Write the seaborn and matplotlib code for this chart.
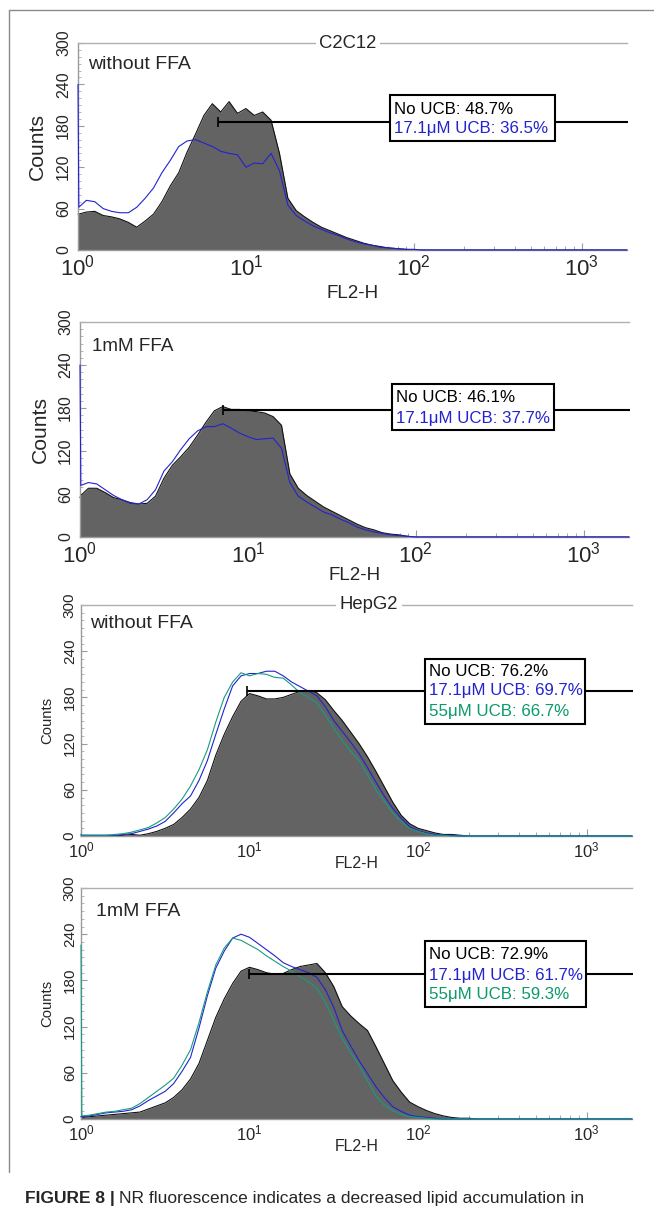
import numpy as np
import matplotlib
matplotlib.use('Agg')
import matplotlib.pyplot as plt
import seaborn as sns
from matplotlib.ticker import FixedLocator, LogLocator, NullFormatter, MultipleLocator
from matplotlib.patches import Rectangle
from matplotlib.lines import Line2D

# FL2-H channel positions (in decades) at which the histograms were read
log_x = [0.0, 0.005, 0.05, 0.10, 0.15, 0.20, 0.25, 0.30, 0.35, 0.40,
         0.45, 0.50, 0.55, 0.60, 0.65, 0.70, 0.75, 0.80, 0.85, 0.90,
         0.95, 1.00, 1.05, 1.10, 1.15, 1.20, 1.25, 1.30, 1.35, 1.40,
         1.45, 1.50, 1.55, 1.60, 1.65, 1.70, 1.75, 1.80, 1.85, 1.90,
         1.95, 2.00, 2.05, 2.10, 2.15, 2.20, 2.25, 2.30, 2.35, 2.40,
         2.45, 2.50, 3.27]

# C2C12 without FFA
c2c12_ctrl_none = [52, 52, 55, 56, 50, 48, 45, 40, 33, 42,
                   52, 70, 93, 112, 142, 168, 195, 212, 200, 215,
                   198, 205, 195, 200, 188, 140, 75, 57, 48, 40,
                   33, 28, 23, 18, 14, 10, 7, 5, 3, 2,
                   1, 0, 0, 0, 0, 0, 0, 0, 0, 0,
                   0, 0, 0]
c2c12_ctrl_ucb17 = [240, 62, 72, 70, 60, 56, 54, 54, 62, 75,
                    90, 112, 130, 150, 158, 160, 155, 150, 143, 140,
                    138, 120, 126, 125, 140, 115, 65, 50, 42, 35,
                    30, 25, 21, 16, 12, 9, 7, 4, 3, 2,
                    1, 1, 0, 0, 0, 0, 0, 0, 0, 0,
                    0, 0, 0]

# C2C12 1mM FFA
c2c12_ffa_none = [55, 58, 68, 68, 62, 55, 52, 48, 46, 47,
                  57, 82, 100, 112, 125, 142, 160, 176, 182, 178,
                  178, 176, 175, 173, 168, 156, 88, 68, 58, 50,
                  42, 36, 30, 24, 18, 13, 10, 6, 4, 3,
                  1, 0, 0, 0, 0, 0, 0, 0, 0, 0,
                  0, 0, 0]
c2c12_ffa_ucb17 = [240, 72, 76, 74, 66, 58, 52, 47, 46, 52,
                   66, 92, 105, 122, 137, 148, 154, 154, 158, 152,
                   145, 140, 136, 137, 138, 124, 76, 57, 49, 42,
                   35, 31, 25, 20, 14, 10, 7, 5, 3, 2,
                   1, 0, 0, 0, 0, 0, 0, 0, 0, 0,
                   0, 0, 0]

# HepG2 without FFA
hepg2_ctrl_none = [0, 0, 0, 0, 0, 0, 1, 2, 1, 3,
                   6, 10, 15, 24, 35, 50, 72, 105, 132, 155,
                   175, 185, 182, 178, 178, 180, 184, 188, 189, 186,
                   177, 163, 150, 135, 120, 103, 84, 64, 44, 27,
                   16, 10, 7, 4, 2, 2, 1, 0, 0, 0,
                   0, 0, 0]
hepg2_ctrl_ucb17 = [2, 1, 1, 1, 1, 1, 2, 3, 6, 9,
                    13, 19, 30, 42, 52, 72, 98, 132, 165, 195,
                    208, 211, 211, 214, 214, 208, 200, 194, 188, 182,
                    168, 150, 136, 122, 107, 89, 70, 52, 36, 23,
                    12, 7, 4, 2, 1, 1, 0, 0, 0, 0,
                    0, 0, 0]
hepg2_ctrl_ucb55 = [2, 1, 1, 1, 1, 2, 3, 5, 8, 11,
                    17, 24, 35, 48, 65, 86, 112, 148, 180, 200,
                    212, 208, 211, 210, 206, 205, 196, 186, 180, 173,
                    157, 140, 124, 110, 98, 80, 60, 45, 30, 19,
                    10, 6, 3, 1, 1, 0, 0, 0, 0, 0,
                    0, 0, 0]

# HepG2 1mM FFA
hepg2_ffa_none = [3, 2, 3, 4, 5, 6, 7, 8, 9, 13,
                  17, 21, 28, 38, 52, 72, 102, 132, 156, 176,
                  192, 197, 194, 190, 188, 189, 194, 198, 200, 202,
                  190, 172, 146, 134, 124, 115, 94, 72, 50, 35,
                  22, 16, 11, 7, 4, 2, 1, 1, 0, 0,
                  0, 0, 0]
hepg2_ffa_ucb17 = [3, 3, 4, 6, 8, 9, 10, 12, 17, 24,
                   30, 36, 46, 62, 80, 118, 160, 196, 218, 235,
                   240, 236, 228, 220, 212, 203, 198, 194, 190, 184,
                   168, 145, 115, 95, 76, 59, 42, 28, 16, 10,
                   5, 3, 2, 1, 0, 0, 0, 0, 0, 0,
                   0, 0, 0]
hepg2_ffa_ucb55 = [226, 4, 5, 7, 9, 10, 12, 14, 20, 28,
                   36, 44, 53, 70, 90, 125, 165, 200, 222, 235,
                   232, 226, 220, 212, 205, 198, 192, 185, 178, 170,
                   152, 128, 105, 86, 70, 50, 30, 18, 11, 6,
                   3, 2, 1, 0, 0, 0, 0, 0, 0, 0,
                   0, 0, 0]

# gate marker (start in FL2-H, height in counts) and gated percentages
gate_start = [6.8, 7.1, 9.7, 9.9]
gate_level = [186, 177, 188, 188]
pct_none = ['48.7%', '46.1%', '76.2%', '72.9%']
pct_ucb17 = ['36.5%', '37.7%', '69.7%', '61.7%']
pct_ucb55 = [None, None, '66.7%', '59.3%']

cell_titles = ['C2C12', None, 'HepG2', None]
conditions = ['without FFA', '1mM FFA', 'without FFA', '1mM FFA']

sns.set_theme(style='white')
plt.rcParams['font.family'] = ['Liberation Sans', 'DejaVu Sans']

W, H = 654, 1207
fig = plt.figure(figsize=(W / 100, H / 100), dpi=100)

GRAY_FILL = '#636363'
BLUE = '#2323cf'
TEAL = '#179c80'
TEXT_GREEN = '#0b9a6c'
AXIS_GRAY = '#9a9a9a'
XMAX = 10 ** 3.27

x = 10 ** np.array(log_x)

# pixel boxes: left, right, top, bottom
boxes = [(78, 627, 43, 250), (80, 629, 322, 537), (81, 632, 605, 836), (81, 632, 888, 1119)]
series = [
    (c2c12_ctrl_none, c2c12_ctrl_ucb17, None),
    (c2c12_ffa_none, c2c12_ffa_ucb17, None),
    (hepg2_ctrl_none, hepg2_ctrl_ucb17, hepg2_ctrl_ucb55),
    (hepg2_ffa_none, hepg2_ffa_ucb17, hepg2_ffa_ucb55),
]
big = [True, True, False, False]
title_x = [0.492, None, 0.523, None]
cond_pos = [(0.018, 0.894), (0.022, 0.884), (0.016, 0.922), (0.027, 0.900)]
ylabel_x = [-0.0747, -0.073, -0.061, -0.061]
xlabel_y = [-0.208, -0.177, -0.121, -0.121]
gate_box = [(0.568, 0.527, 0.301, 0.222), (0.568, 0.498, 0.295, 0.214),
            (0.624, 0.485, 0.291, 0.281), (0.624, 0.485, 0.293, 0.286)]
text_x = [0.576, 0.576, 0.632, 0.632]
text_y = [(0.681, 0.589, None), (0.647, 0.553, None),
          (0.710, 0.628, 0.541), (0.710, 0.623, 0.541)]

for i, (l, r, t, b) in enumerate(boxes):
    ax = fig.add_axes([l / W, 1 - b / H, (r - l) / W, (b - t) / H])
    ax.set_xscale('log')
    none_y, ucb17_y, ucb55_y = series[i]

    ax.fill_between(x, none_y, color=GRAY_FILL, lw=0, zorder=1)
    sns.lineplot(x=x, y=none_y, ax=ax, color='#111111', lw=0.8, sort=False,
                 estimator=None, zorder=2, clip_on=False)
    sns.lineplot(x=x, y=ucb17_y, ax=ax, color=BLUE, lw=0.8, sort=False,
                 estimator=None, zorder=3, clip_on=False)
    if ucb55_y is not None:
        sns.lineplot(x=x, y=ucb55_y, ax=ax, color=TEAL, lw=0.8, sort=False,
                     estimator=None, zorder=4, clip_on=False)

    ax.set_xlim(1, XMAX)
    ax.set_ylim(0, 300)

    for side in ['left', 'bottom', 'top']:
        ax.spines[side].set_visible(True)
        ax.spines[side].set_color(AXIS_GRAY if side != 'top' else '#b0b0b0')
        ax.spines[side].set_linewidth(1.0)
    ax.spines['right'].set_visible(False)

    tick_fs = 16 if big[i] else 12
    ax.xaxis.set_major_locator(FixedLocator([1, 10, 100, 1000]))
    ax.xaxis.set_minor_locator(LogLocator(base=10, subs=np.arange(2, 10), numticks=20))
    ax.xaxis.set_minor_formatter(NullFormatter())
    ax.set_yticks([0, 60, 120, 180, 240, 300])
    ax.yaxis.set_minor_locator(MultipleLocator(10))
    ax.tick_params(axis='x', which='major', direction='in', length=5, width=0.8,
                   color=AXIS_GRAY, pad=3, labelsize=tick_fs, bottom=True)
    ax.tick_params(axis='x', which='minor', direction='in', length=3, width=0.6,
                   color=AXIS_GRAY, bottom=True)
    ax.tick_params(axis='y', which='major', direction='in', length=4, width=0.8,
                   color=AXIS_GRAY, pad=5 if big[i] else 3, labelsize=11.5 if big[i] else 11,
                   labelrotation=90, left=True)
    ax.tick_params(axis='y', which='minor', direction='in', length=2, width=0.5,
                   color=AXIS_GRAY, left=True)
    for lab in ax.get_yticklabels():
        lab.set_va('center')

    ax.set_xlabel('FL2-H', fontsize=13.5 if big[i] else 11.4)
    ax.xaxis.set_label_coords(0.5, xlabel_y[i])
    ax.xaxis.label.set_va('center')
    ax.set_ylabel('Counts', fontsize=15.2 if big[i] else 10.7)
    ax.yaxis.set_label_coords(ylabel_x[i], 0.5)
    ax.yaxis.label.set_va('center')

    if cell_titles[i]:
        ax.text(title_x[i], 1.0, cell_titles[i], transform=ax.transAxes, ha='center',
                va='center', fontsize=13.3, zorder=6, clip_on=False,
                bbox=dict(fc='white', ec='none', pad=2.5))
    ax.text(cond_pos[i][0], cond_pos[i][1], conditions[i], transform=ax.transAxes,
            ha='left', va='center', fontsize=14 if i != 1 else 13.6, zorder=6)

    # gate bar with percentage box
    ax.plot([gate_start[i], XMAX * 1.02], [gate_level[i], gate_level[i]], color='black',
            lw=1.5, zorder=5, clip_on=False, solid_capstyle='butt')
    ax.plot([gate_start[i]], [gate_level[i]], marker='|', ms=7, mew=1.2, color='black',
            zorder=5)
    bx, by, bw, bh = gate_box[i]
    ax.add_patch(Rectangle((bx, by), bw, bh, transform=ax.transAxes, fc='white',
                           ec='black', lw=1.5, zorder=6, clip_on=False))
    ty = text_y[i]
    ax.text(text_x[i], ty[0], f'No UCB: {pct_none[i]}', transform=ax.transAxes,
            ha='left', va='center', fontsize=12.2, color='black', zorder=7)
    ax.text(text_x[i], ty[1], f'17.1μM UCB: {pct_ucb17[i]}', transform=ax.transAxes,
            ha='left', va='center', fontsize=12.2, color=BLUE, zorder=7)
    if pct_ucb55[i]:
        ax.text(text_x[i], ty[2], f'55μM UCB: {pct_ucb55[i]}', transform=ax.transAxes,
                ha='left', va='center', fontsize=12.2, color=TEXT_GREEN, zorder=7)

# page frame lines
fig.add_artist(Line2D([9 / W, 1.0], [1 - 10 / H, 1 - 10 / H], color='#8a8a8a', lw=1.0))
fig.add_artist(Line2D([9 / W, 9 / W], [1 - 10 / H, 1 - 1172 / H], color='#8a8a8a', lw=1.0))

# caption
cap_bold = fig.text(25 / W, 1 - 1198 / H, 'FIGURE 8 |', fontsize=12.5, weight='bold',
                    ha='left', va='center')
fig.canvas.draw()
bb = cap_bold.get_window_extent()
fig.text((bb.x1 + 4) / W, 1 - 1198 / H,
         'NR fluorescence indicates a decreased lipid accumulation in',
         fontsize=12.5, ha='left', va='center')

fig.savefig('out.png', dpi=100)
